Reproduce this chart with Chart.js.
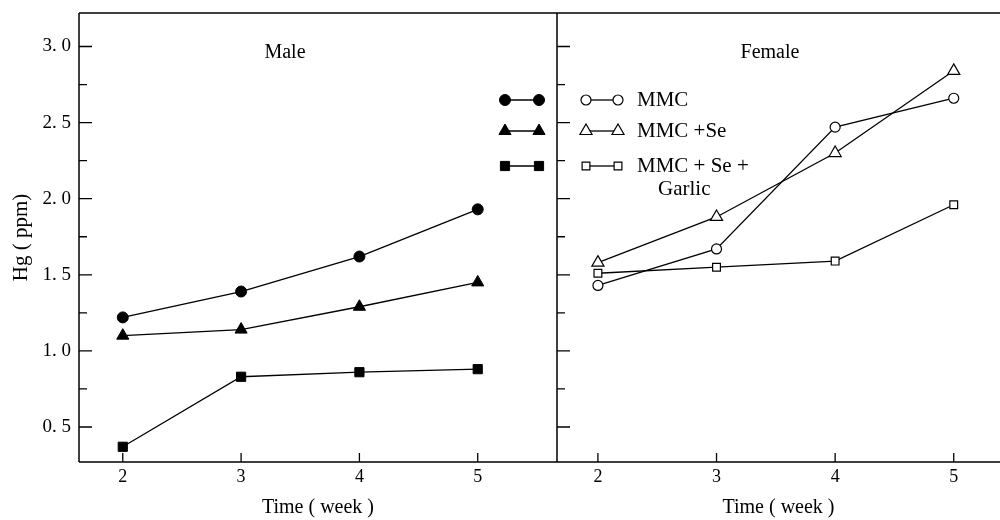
<!DOCTYPE html>
<html>
<head>
<meta charset="utf-8">
<script src="https://cdn.jsdelivr.net/npm/chart.js@4"></script>
<style>
  body { margin: 0; background: #fff; }
  #wrap { position: relative; width: 1000px; height: 520px; }
  canvas { position: absolute; top: 0; }
</style>
</head>
<body>
<div id="wrap">
  <canvas id="male" width="560" height="520" style="left:0"></canvas>
  <canvas id="female" width="446" height="520" style="left:554px"></canvas>
</div>
<script>
// weeks on the x axis
const weeks = [2, 3, 4, 5];
// tick values on the y axis (labels only every 0.5)
const yTicks = [0.5, 0.75, 1.0, 1.25, 1.5, 1.75, 2.0, 2.25, 2.5, 2.75, 3.0];

// Hg (ppm), male
const maleMMC = [1.22, 1.39, 1.62, 1.93];
const maleMMCSe = [1.10, 1.14, 1.29, 1.45];
const maleMMCSeGarlic = [0.37, 0.83, 0.86, 0.88];

// Hg (ppm), female
const femaleMMC = [1.43, 1.67, 2.47, 2.66];
const femaleMMCSe = [1.58, 1.88, 2.30, 2.84];
const femaleMMCSeGarlic = [1.51, 1.55, 1.59, 1.96];

const legendLabels = ["MMC", "MMC +Se", "MMC + Se +"];
const legendExtra = "Garlic";

const serif = "'Liberation Serif', 'DejaVu Serif', serif";

function points(values) {
    return weeks.map((w, i) => ({ x: w, y: values[i] }));
}

// Function to build one dataset
function makeSet(label, values, style, radius, filled) {
    return {
        label: label,
        data: points(values),
        borderColor: '#000',
        borderWidth: 1.3,
        pointStyle: style,
        pointRadius: radius,
        pointHoverRadius: radius,
        pointBackgroundColor: filled ? '#000' : '#fff',
        pointBorderColor: '#000',
        pointBorderWidth: filled ? 1 : 1.2,
        tension: 0
    };
}

function drawMarker(ctx, style, radius, x, y, filled) {
    ctx.fillStyle = filled ? '#000' : '#fff';
    ctx.strokeStyle = '#000';
    ctx.lineWidth = filled ? 1 : 1.2;
    Chart.helpers.drawPoint(ctx, { pointStyle: style, radius: radius, rotation: 0, borderWidth: ctx.lineWidth }, x, y);
}

// frame lines and inward ticks
const framePlugin = {
    id: 'frame',
    afterDraw(chart) {
        const { ctx, chartArea, scales } = chart;
        const opts = chart.options.plugins.frame;
        ctx.save();
        ctx.strokeStyle = '#000';
        ctx.lineWidth = 1.5;
        ctx.beginPath();
        ctx.moveTo(chartArea.left, chartArea.top);
        ctx.lineTo(chartArea.right, chartArea.top);
        ctx.moveTo(chartArea.left, chartArea.top);
        ctx.lineTo(chartArea.left, chartArea.bottom);
        ctx.moveTo(chartArea.left, chartArea.bottom);
        ctx.lineTo(chartArea.right, chartArea.bottom);
        ctx.stroke();

        ctx.lineWidth = 1.3;
        ctx.beginPath();
        yTicks.forEach(v => {
            const py = scales.y.getPixelForValue(v);
            const major = Math.abs(v * 2 - Math.round(v * 2)) < 1e-6;
            ctx.moveTo(chartArea.left, py);
            ctx.lineTo(chartArea.left + (major ? 13 : 8), py);
        });
        weeks.forEach(w => {
            const px = scales.x.getPixelForValue(w);
            ctx.moveTo(px, chartArea.bottom);
            ctx.lineTo(px, chartArea.bottom - 9);
        });
        ctx.stroke();

        // panel name
        ctx.fillStyle = '#000';
        ctx.font = '20px ' + serif;
        ctx.textAlign = 'center';
        ctx.textBaseline = 'middle';
        ctx.fillText(opts.name, chartArea.left + opts.nameX, 53);

        // legend pieces
        const sets = chart.data.datasets;
        const rows = [100, 131, 166];
        ctx.font = '21px ' + serif;
        sets.forEach((ds, i) => {
            const y = rows[i];
            const x1 = chartArea.left + opts.legendX;
            const x2 = x1 + opts.legendW;
            ctx.lineWidth = 1.3;
            ctx.beginPath();
            ctx.moveTo(x1, y);
            ctx.lineTo(x2, y);
            ctx.stroke();
            const filled = ds.pointBackgroundColor === '#000';
            drawMarker(ctx, ds.pointStyle, ds.pointRadius, x1, y, filled);
            drawMarker(ctx, ds.pointStyle, ds.pointRadius, x2, y, filled);
            if (opts.showText) {
                ctx.fillStyle = '#000';
                ctx.textAlign = 'left';
                ctx.fillText(legendLabels[i], x2 + 19, y);
            }
        });
        if (opts.showText) {
            ctx.fillText(legendExtra, chartArea.left + 101, 189);
        }
        ctx.restore();
    }
};

function yLabel(v) {
    const major = Math.abs(v * 2 - Math.round(v * 2)) < 1e-6;
    return major ? v.toFixed(1).replace('.', '. ') : '';
}

function fitX(scale) {
    scale.height = 58;
    scale.paddingLeft = 0;
    scale.paddingRight = 0;
}

function fitY(scale) {
    scale.paddingTop = 0;
    scale.paddingBottom = 0;
}

// male chart
new Chart(document.getElementById('male').getContext('2d'), {
    type: 'line',
    data: {
        datasets: [
            makeSet('MMC', maleMMC, 'circle', 5.5, true),
            makeSet('MMC+Se', maleMMCSe, 'triangle', 7, true),
            makeSet('MMC+Se+Garlic', maleMMCSeGarlic, 'rect', 6.5, true)
        ]
    },
    options: {
        responsive: false,
        animation: false,
        layout: { autoPadding: false, padding: { top: 13, right: 3, left: 0, bottom: 0 } },
        scales: {
            x: {
                type: 'linear',
                min: 1.63,
                max: 5.67,
                afterBuildTicks: (scale) => { scale.ticks = weeks.map(v => ({ value: v })); },
                afterFit: fitX,
                grid: { display: false, drawTicks: false },
                border: { display: false },
                ticks: { color: '#000', padding: 4, font: { family: serif, size: 18 }, callback: v => String(v) },
                title: { display: true, text: 'Time ( week )', color: '#000', padding: { top: 0, bottom: 0 }, font: { family: serif, size: 20 } }
            },
            y: {
                type: 'linear',
                min: 0.27,
                max: 3.22,
                afterBuildTicks: (scale) => { scale.ticks = yTicks.map(v => ({ value: v })); },
                afterFit: (scale) => { scale.width = 79; fitY(scale); },
                grid: { display: false, drawTicks: false },
                border: { display: false },
                ticks: { color: '#000', padding: 8, font: { family: serif, size: 19 }, callback: yLabel },
                title: { display: true, text: 'Hg ( ppm)', color: '#000', padding: { top: 9, bottom: 0 }, font: { family: serif, size: 21 } }
            }
        },
        plugins: {
            legend: { display: false },
            tooltip: { enabled: false },
            frame: { name: 'Male', nameX: 206, legendX: 426, legendW: 34, showText: false }
        }
    },
    plugins: [framePlugin]
});

// female chart
new Chart(document.getElementById('female').getContext('2d'), {
    type: 'line',
    data: {
        datasets: [
            makeSet('MMC', femaleMMC, 'circle', 5, false),
            makeSet('MMC+Se', femaleMMCSe, 'triangle', 7, false),
            makeSet('MMC+Se+Garlic', femaleMMCSeGarlic, 'rect', 5.5, false)
        ]
    },
    options: {
        responsive: false,
        animation: false,
        layout: { autoPadding: false, padding: { top: 13, right: 0, left: 3, bottom: 0 } },
        scales: {
            x: {
                type: 'linear',
                min: 1.655,
                max: 5.39,
                afterBuildTicks: (scale) => { scale.ticks = weeks.map(v => ({ value: v })); },
                afterFit: fitX,
                grid: { display: false, drawTicks: false },
                border: { display: false },
                ticks: { color: '#000', padding: 4, font: { family: serif, size: 18 }, callback: v => String(v) },
                title: { display: true, text: 'Time ( week )', color: '#000', padding: { top: 0, bottom: 0 }, font: { family: serif, size: 20 } }
            },
            y: {
                type: 'linear',
                display: false,
                min: 0.27,
                max: 3.22
            }
        },
        plugins: {
            legend: { display: false },
            tooltip: { enabled: false },
            frame: { name: 'Female', nameX: 213, legendX: 29, legendW: 32, showText: true }
        }
    },
    plugins: [framePlugin]
});
</script>
</body>
</html>
